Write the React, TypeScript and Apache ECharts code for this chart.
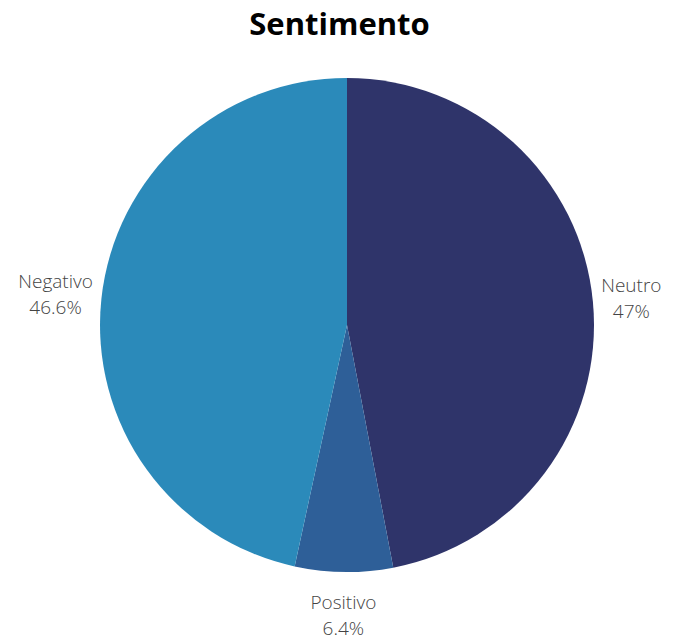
import React, { useEffect, useRef } from "react";
import * as echarts from "echarts";

const titleText = "Sentimento";
const categories = ["Neutro", "Positivo", "Negativo"];
const values = [47, 6.4, 46.6];
const colors = ["#2f346a", "#2e5f98", "#2b8aba"];

export default function App() {
  const ref = useRef<HTMLDivElement>(null);
  useEffect(() => {
    document.body.style.margin = "0";
    const chart = echarts.init(ref.current!, null, { renderer: "svg" });
    chart.setOption({
      animation: false,
      title: {
        text: titleText,
        left: "center",
        top: 2,
        textStyle: {
          fontFamily: "Open Sans",
          fontWeight: "bold",
          fontSize: 31,
          color: "#000",
        },
      },
      series: [
        {
          type: "pie",
          center: [347, 325],
          radius: 247,
          startAngle: 90,
          clockwise: true,
          data: categories.map((c, i) => ({
            name: c,
            value: values[i],
            itemStyle: { color: colors[i] },
          })),
          label: {
            show: true,
            position: "outside",
            formatter: (p: any) => `${p.name}\n${p.value}%`,
            fontFamily: "Open Sans",
            fontWeight: 300,
            fontSize: 19,
            lineHeight: 26,
            color: "#444",
          },
          labelLine: { show: false, length: 1, length2: 0 },
          labelLayout: (params: any) => {
            const pts = params.labelLinePoints;
            if (!pts) return {};
            const p0 = pts[0];
            const p1 = pts[1];
            let dx = p1[0] - p0[0];
            let dy = p1[1] - p0[1];
            const len = Math.hypot(dx, dy) || 1;
            dx /= len;
            dy /= len;
            const w = params.labelRect.width;
            const h = params.labelRect.height;
            const ext = (Math.abs(dx) * w) / 2 + (Math.abs(dy) * h) / 2;
            const gap = 5 + 12 * Math.abs(dy);
            return {
              x: p0[0] + dx * (gap + ext),
              y: p0[1] + dy * (gap + ext),
              align: "center",
              verticalAlign: "middle",
            };
          },
        },
      ],
    });
    return () => chart.dispose();
  }, []);
  return <div ref={ref} style={{ width: 679, height: 641 }} />;
}
